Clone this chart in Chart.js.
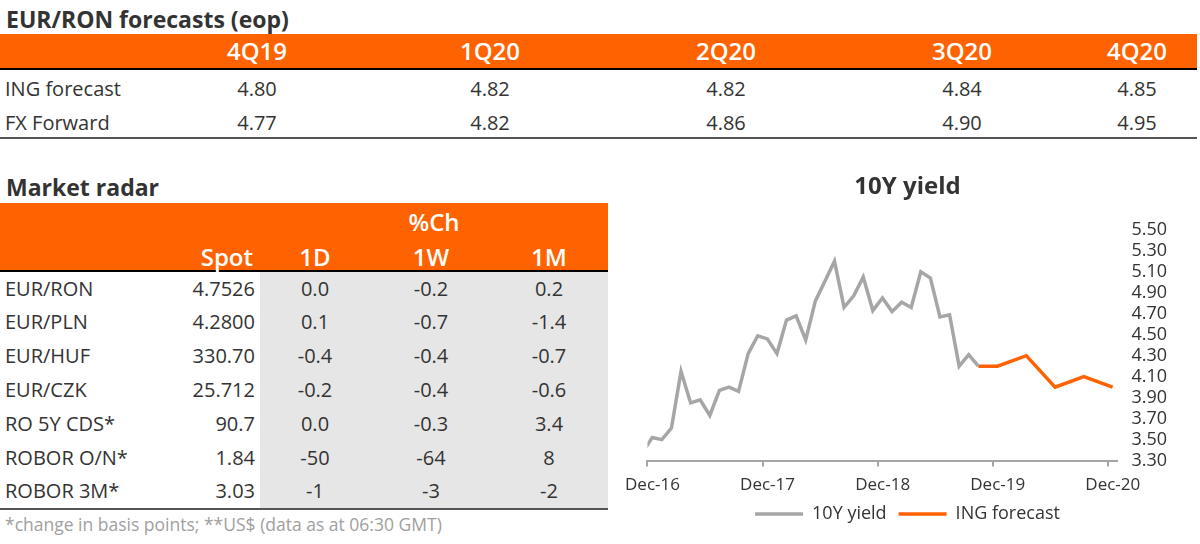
<!DOCTYPE html>
<html>
<head>
<meta charset="utf-8">
<script src="https://cdn.jsdelivr.net/npm/chart.js@4.4.1/dist/chart.umd.min.js"></script>
<style>
  html, body { margin: 0; padding: 0; background: #fff; }
  body { width: 1200px; height: 544px; position: relative; overflow: hidden; font-family: "Open Sans", sans-serif; color: #333; }
  .t { position: absolute; white-space: nowrap; line-height: 1; }
  .r { position: absolute; }
  #chartBox { position: absolute; left: 612px; top: 165px; width: 588px; height: 379px; }
</style>
</head>
<body>
<div id="chartBox"><canvas id="yieldChart"></canvas></div>
<script>
// EUR/RON forecast table
const quarters = ['4Q19', '1Q20', '2Q20', '3Q20', '4Q20'];
const ingForecast = ['4.80', '4.82', '4.82', '4.84', '4.85'];
const fxForward = ['4.77', '4.82', '4.86', '4.90', '4.95'];

// Market radar table
const radarNames = ['EUR/RON', 'EUR/PLN', 'EUR/HUF', 'EUR/CZK', 'RO 5Y CDS*', 'ROBOR O/N*', 'ROBOR 3M*'];
const radarSpot = ['4.7526', '4.2800', '330.70', '25.712', '90.7', '1.84', '3.03'];
const radar1D = ['0.0', '0.1', '-0.4', '-0.2', '0.0', '-50', '-1'];
const radar1W = ['-0.2', '-0.7', '-0.4', '-0.4', '-0.3', '-64', '-3'];
const radar1M = ['0.2', '-1.4', '-0.7', '-0.6', '3.4', '8', '-2'];

// 10Y yield chart
const yieldMonths = ['Nov-16', 'Dec-16', 'Jan-17', 'Feb-17', 'Mar-17', 'Apr-17', 'May-17', 'Jun-17', 'Jul-17',
  'Aug-17', 'Sep-17', 'Oct-17', 'Nov-17', 'Dec-17', 'Jan-18', 'Feb-18', 'Mar-18', 'Apr-18', 'May-18', 'Jun-18',
  'Jul-18', 'Aug-18', 'Sep-18', 'Oct-18', 'Nov-18', 'Dec-18', 'Jan-19', 'Feb-19', 'Mar-19', 'Apr-19', 'May-19',
  'Jun-19', 'Jul-19', 'Aug-19', 'Sep-19', 'Oct-19'];
const yieldValues = [3.38, 3.52, 3.50, 3.61, 4.15, 3.85, 3.88, 3.73, 3.97,
  4.00, 3.96, 4.32, 4.49, 4.46, 4.32, 4.64, 4.68, 4.45, 4.82, 5.01,
  5.20, 4.76, 4.87, 5.05, 4.73, 4.85, 4.72, 4.81, 4.76, 5.10, 5.04,
  4.67, 4.69, 4.20, 4.31, 4.20];
const forecastMonths = ['Oct-19', 'Dec-19', 'Mar-20', 'Jun-20', 'Sep-20', 'Dec-20'];
const forecastValues = [4.20, 4.20, 4.30, 4.00, 4.10, 4.00];
const xTickLabels = ['Dec-16', 'Dec-17', 'Dec-18', 'Dec-19', 'Dec-20'];
const yTicks = [3.30, 3.50, 3.70, 3.90, 4.10, 4.30, 4.50, 4.70, 4.90, 5.10, 5.30, 5.50];

const ORANGE = '#ff6200';
const GREY_LINE = '#a6a6a6';
const TEXT = '#333333';

// small helpers for the html tables
function rect(x, y, w, h, bg) {
  const d = document.createElement('div');
  d.className = 'r';
  Object.assign(d.style, { left: x + 'px', top: y + 'px', width: w + 'px', height: h + 'px', background: bg });
  document.body.appendChild(d);
}
function put(text, x, y, align, size, weight, color) {
  const d = document.createElement('div');
  d.className = 't';
  d.textContent = text;
  const tx = align === 'c' ? '-50%' : align === 'r' ? '-100%' : '0';
  Object.assign(d.style, {
    left: x + 'px', top: y + 'px', fontSize: size + 'px', fontWeight: weight || 400,
    color: color || TEXT, transform: 'translate(' + tx + ', -50%)'
  });
  document.body.appendChild(d);
}

// ---- top table
put('EUR/RON forecasts (eop)', 6, 19, 'l', 23, 700);
rect(0, 34, 1197, 34, ORANGE);
rect(0, 68, 1197, 2, '#000');
const qX = [257, 490, 726, 962, 1137];
quarters.forEach((q, i) => put(q, qX[i], 51, 'c', 24, 600, '#fff'));
put('ING forecast', 5, 89, 'l', 20);
put('FX Forward', 5, 123, 'l', 20);
ingForecast.forEach((v, i) => put(v, qX[i], 89, 'c', 20));
fxForward.forEach((v, i) => put(v, qX[i], 123, 'c', 20));
rect(0, 137, 1197, 2, '#555');

// ---- market radar
put('Market radar', 6, 187, 'l', 23, 700);
rect(0, 203, 608, 67, ORANGE);
rect(0, 270, 608, 2, '#000');
rect(260, 272, 348, 236, '#e6e6e6');
put('%Ch', 434, 222, 'c', 24, 600, '#fff');
put('Spot', 253, 257, 'r', 24, 600, '#fff');
put('1D', 315, 257, 'c', 24, 600, '#fff');
put('1W', 431, 257, 'c', 24, 600, '#fff');
put('1M', 549, 257, 'c', 24, 600, '#fff');
radarNames.forEach((name, i) => {
  const y = 288.5 + 33.8 * i;
  put(name, 5, y, 'l', 20);
  put(radarSpot[i], 255, y, 'r', 20);
  put(radar1D[i], 315, y, 'c', 20);
  put(radar1W[i], 431, y, 'c', 20);
  put(radar1M[i], 549, y, 'c', 20);
});
rect(0, 508, 608, 2, '#555');
put('*change in basis points; **US$ (data as at 06:30 GMT)', 5, 525, 'l', 17.5, 400, '#a0a0a0');

// ---- chart
const monthNames = ['Jan', 'Feb', 'Mar', 'Apr', 'May', 'Jun', 'Jul', 'Aug', 'Sep', 'Oct', 'Nov', 'Dec'];
// months counted from the start of Dec-16, point sits in the middle of its month
function monthPos(label) {
  const [m, yy] = label.split('-');
  return (parseInt(yy) - 16) * 12 + monthNames.indexOf(m) - 11 + 0.5;
}

new Chart(document.getElementById('yieldChart'), {
  type: 'line',
  data: {
    datasets: [{
      label: '10Y yield',
      data: yieldMonths.map((m, i) => ({ x: monthPos(m), y: yieldValues[i] })),
      borderColor: GREY_LINE,
      backgroundColor: GREY_LINE,
      borderWidth: 3.5,
      pointRadius: 0,
      tension: 0,
      clip: 0
    }, {
      label: 'ING forecast',
      data: forecastMonths.map((m, i) => ({ x: monthPos(m), y: forecastValues[i] })),
      borderColor: ORANGE,
      backgroundColor: ORANGE,
      borderWidth: 3.5,
      pointRadius: 0,
      tension: 0,
      clip: 0
    }]
  },
  options: {
    responsive: true,
    maintainAspectRatio: false,
    animation: false,
    layout: { padding: { left: 30, right: 27, top: 0, bottom: 11 } },
    plugins: {
      title: {
        display: true,
        text: '10Y yield',
        color: TEXT,
        font: { family: 'Open Sans', size: 24, weight: 'bold' },
        padding: { top: 8, bottom: 28 }
      },
      legend: {
        position: 'bottom',
        labels: {
          usePointStyle: true,
          pointStyle: 'line',
          pointStyleWidth: 48,
          color: TEXT,
          font: { family: 'Open Sans', size: 18 },
          padding: 12
        }
      },
      tooltip: { enabled: false }
    },
    scales: {
      x: {
        type: 'linear',
        min: 0,
        max: 49,
        afterBuildTicks: s => { s.ticks = xTickLabels.map((l, i) => ({ value: i * 12 })); },
        // legend padding is wider than needed vertically, give the room back
        afterFit: s => { s.height -= 10; },
        ticks: {
          callback: (v, i) => xTickLabels[i],
          autoSkip: false,
          maxRotation: 0,
          labelOffset: 5,
          padding: 8,
          color: TEXT,
          font: { family: 'Open Sans', size: 17 }
        },
        grid: { drawOnChartArea: false, drawTicks: true, tickLength: 6, color: GREY_LINE, lineWidth: 2 },
        border: { color: GREY_LINE, width: 2 }
      },
      y: {
        position: 'right',
        min: 3.3,
        max: 5.5,
        afterBuildTicks: s => { s.ticks = yTicks.map(v => ({ value: v })); },
        ticks: {
          callback: v => v.toFixed(2),
          autoSkip: false,
          padding: 6,
          color: TEXT,
          font: { family: 'Open Sans', size: 18 }
        },
        grid: { display: false },
        border: { display: false }
      }
    }
  }
});
</script>
</body>
</html>
